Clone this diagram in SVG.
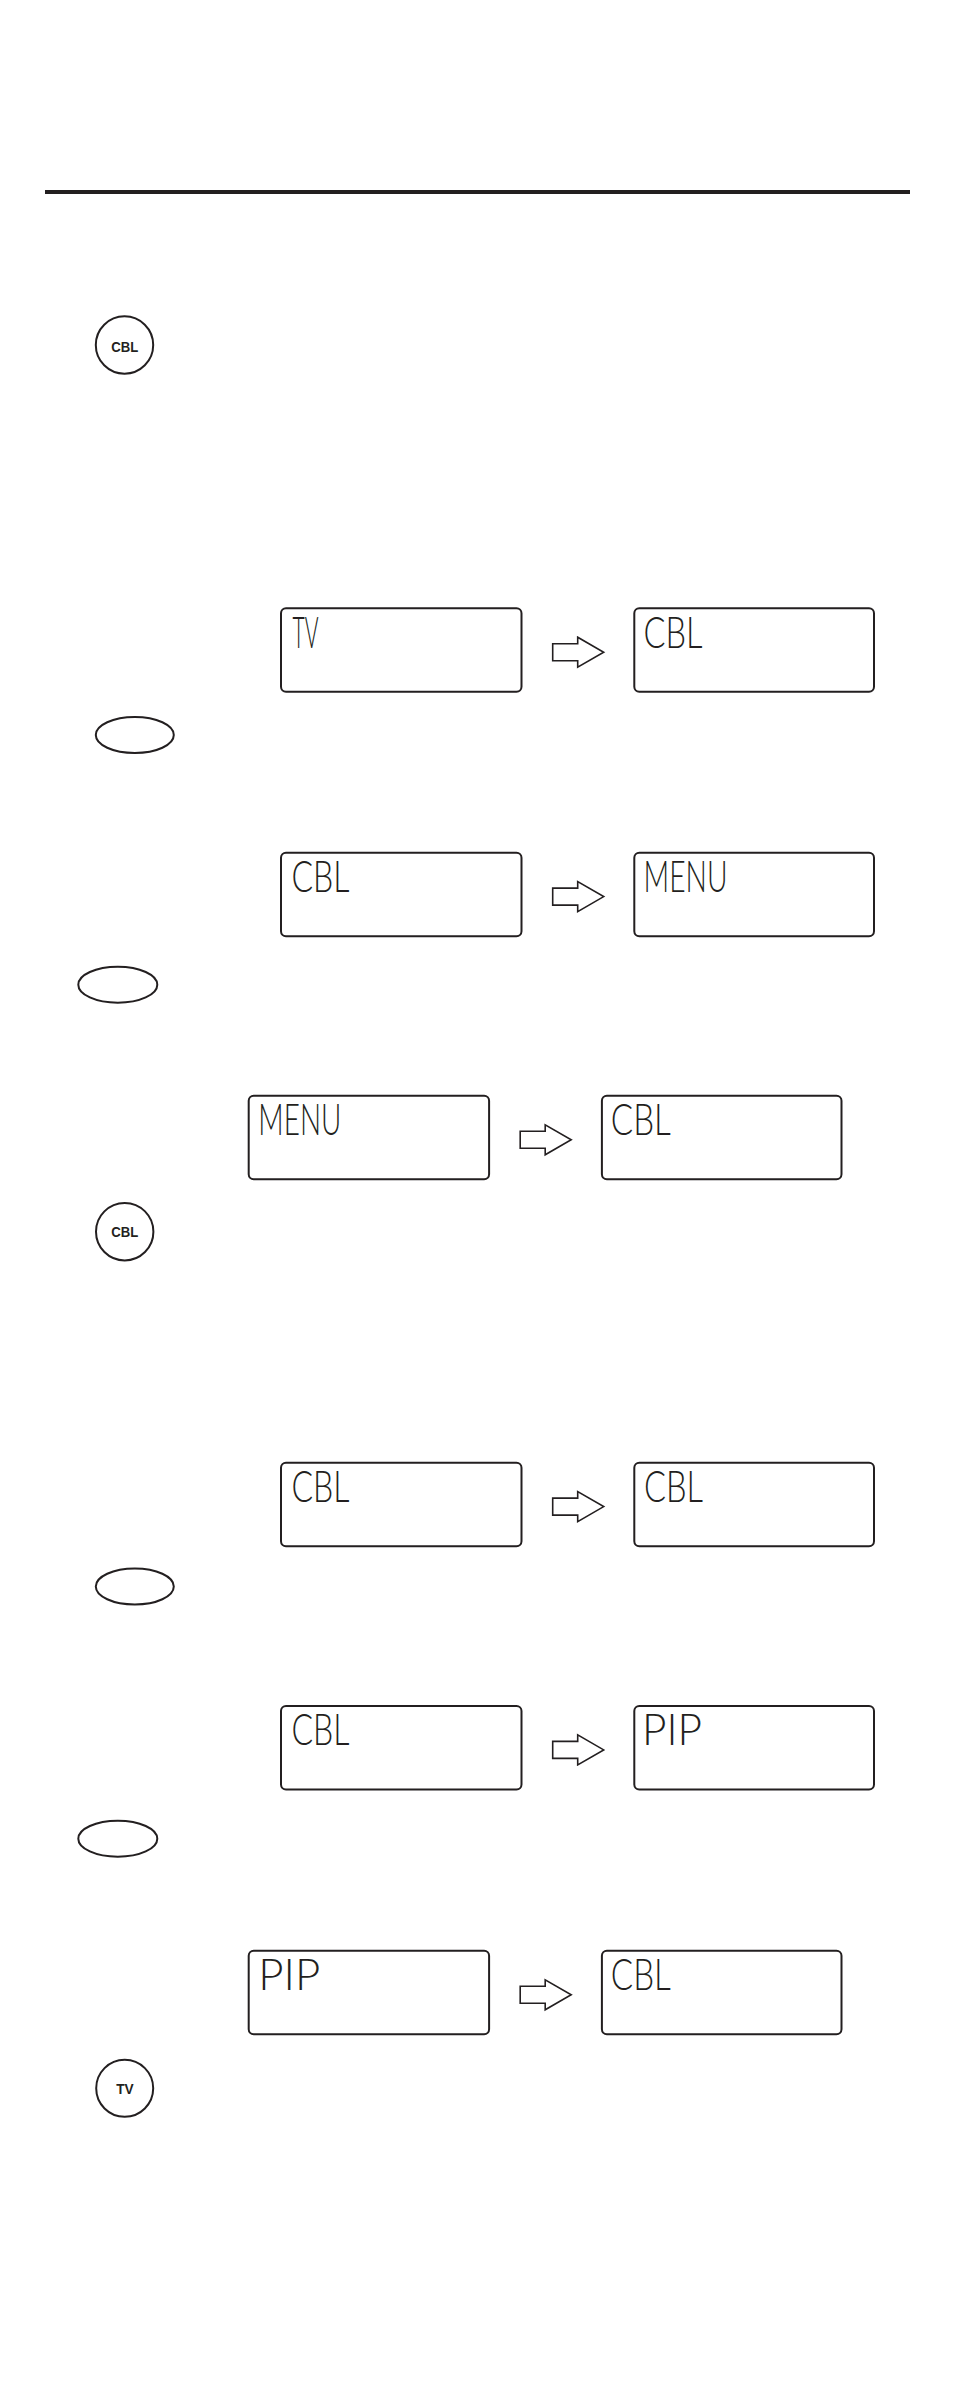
<svg xmlns="http://www.w3.org/2000/svg" xmlns:xlink="http://www.w3.org/1999/xlink" width="954" height="2397" viewBox="0 0 954 2397">
<style>
.lcd{fill:#fff;stroke:#231f20;stroke-width:2}
.seg{font-family:"Lato","Liberation Sans Narrow","Liberation Sans",sans-serif;font-weight:300;font-size:44px;fill:#231f20}
.btn{fill:#fff;stroke:#231f20;stroke-width:2}
.btxt{font-family:"Liberation Sans","DejaVu Sans",sans-serif;font-weight:bold;font-size:15.5px;fill:#231f20;text-anchor:middle}
.arr{fill:#fff;stroke:#231f20;stroke-width:1.6;stroke-linejoin:miter}
</style>
<defs>
<polygon id="arrow" class="arr" points="0,-8.5 25,-8.5 25,-15 51,0 25,15 25,8.5 0,8.5"/>
</defs>
<rect width="954" height="2397" fill="#fff"/>
<rect id="rule" x="45" y="190" width="865" height="4" fill="#231f20"/>

<g id="btn-cbl-1"><circle class="btn" cx="124.5" cy="345" r="28.7"/><text class="btxt" x="124.7" y="351.5" textLength="27" lengthAdjust="spacingAndGlyphs">CBL</text></g>

<g id="r1-a"><rect class="lcd" x="281" y="608.3" width="240.5" height="83.5" rx="5"/><text class="seg" x="292.5" y="647.5" textLength="26" lengthAdjust="spacingAndGlyphs">TV</text></g>
<g id="r1-b"><rect class="lcd" x="634.3" y="608.3" width="239.7" height="83.5" rx="5"/><text class="seg" x="643.5" y="647.5" textLength="59" lengthAdjust="spacingAndGlyphs">CBL</text></g>
<g id="ellipse-1"><ellipse class="btn" cx="134.8" cy="735" rx="39" ry="18"/></g>

<g id="r2-a"><rect class="lcd" x="281" y="852.7" width="240.5" height="83.5" rx="5"/><text class="seg" x="291.5" y="891.9" textLength="58" lengthAdjust="spacingAndGlyphs">CBL</text></g>
<g id="r2-b"><rect class="lcd" x="634.3" y="852.7" width="239.7" height="83.5" rx="5"/><text class="seg" x="643.5" y="891.9" textLength="84" lengthAdjust="spacingAndGlyphs">MENU</text></g>
<g id="ellipse-2"><ellipse class="btn" cx="117.8" cy="984.7" rx="39.5" ry="18"/></g>

<g id="r3-a"><rect class="lcd" x="248.7" y="1095.7" width="240.4" height="83.5" rx="5"/><text class="seg" x="258.3" y="1134.9" textLength="83" lengthAdjust="spacingAndGlyphs">MENU</text></g>
<g id="r3-b"><rect class="lcd" x="601.9" y="1095.7" width="239.6" height="83.5" rx="5"/><text class="seg" x="610.8" y="1134.9" textLength="60" lengthAdjust="spacingAndGlyphs">CBL</text></g>

<g id="btn-cbl-2"><circle class="btn" cx="124.7" cy="1231.7" r="28.7"/><text class="btxt" x="124.7" y="1237.1" textLength="27" lengthAdjust="spacingAndGlyphs">CBL</text></g>

<g id="r4-a"><rect class="lcd" x="281" y="1462.7" width="240.5" height="83.5" rx="5"/><text class="seg" x="291.5" y="1501.9" textLength="58" lengthAdjust="spacingAndGlyphs">CBL</text></g>
<g id="r4-b"><rect class="lcd" x="634.3" y="1462.7" width="239.7" height="83.5" rx="5"/><text class="seg" x="644" y="1501.9" textLength="59" lengthAdjust="spacingAndGlyphs">CBL</text></g>
<g id="ellipse-3"><ellipse class="btn" cx="134.8" cy="1586.5" rx="39" ry="18"/></g>

<g id="r5-a"><rect class="lcd" x="281" y="1706" width="240.5" height="83.5" rx="5"/><text class="seg" x="291.5" y="1745.2" textLength="58" lengthAdjust="spacingAndGlyphs">CBL</text></g>
<g id="r5-b"><rect class="lcd" x="634.3" y="1706" width="239.7" height="83.5" rx="5"/><text class="seg" x="642" y="1745.2" textLength="60" lengthAdjust="spacingAndGlyphs">PIP</text></g>
<g id="ellipse-4"><ellipse class="btn" cx="117.8" cy="1838.7" rx="39.5" ry="18"/></g>

<g id="r6-a"><rect class="lcd" x="248.7" y="1950.7" width="240.4" height="83.5" rx="5"/><text class="seg" x="258.3" y="1989.9" textLength="62" lengthAdjust="spacingAndGlyphs">PIP</text></g>
<g id="r6-b"><rect class="lcd" x="601.9" y="1950.7" width="239.6" height="83.5" rx="5"/><text class="seg" x="610.8" y="1989.9" textLength="60" lengthAdjust="spacingAndGlyphs">CBL</text></g>

<g id="btn-tv"><circle class="btn" cx="124.7" cy="2088.3" r="28.5"/><text class="btxt" x="125" y="2094.3" font-size="17" textLength="17.5" lengthAdjust="spacingAndGlyphs">TV</text></g>

<g id="connectors">
<use xlink:href="#arrow" transform="translate(552.7,652.2)"/>
<use xlink:href="#arrow" transform="translate(552.7,896.6)"/>
<use xlink:href="#arrow" transform="translate(520.2,1139.8)"/>
<use xlink:href="#arrow" transform="translate(552.7,1506.6)"/>
<use xlink:href="#arrow" transform="translate(552.7,1749.9)"/>
<use xlink:href="#arrow" transform="translate(520.2,1994.8)"/>
</g>
</svg>
